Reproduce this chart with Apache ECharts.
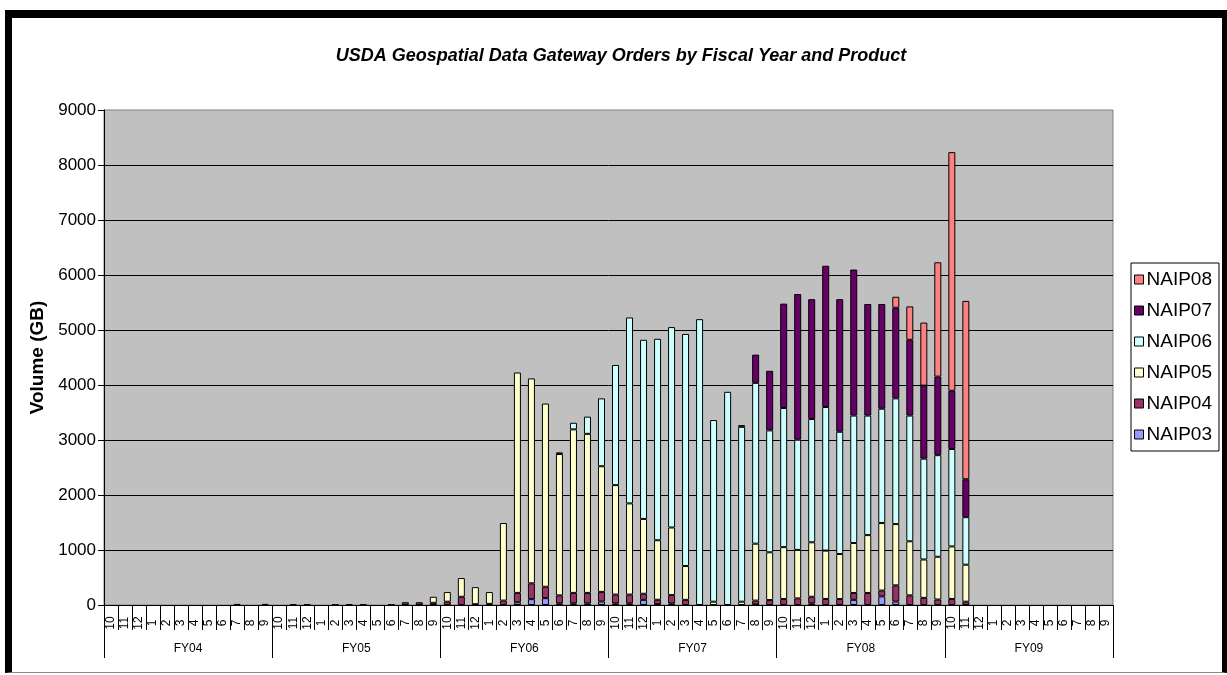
<!DOCTYPE html>
<html>
<head>
<meta charset="utf-8">
<script src="https://cdn.jsdelivr.net/npm/echarts@6/dist/echarts.min.js"></script>
<style>
  html, body { margin: 0; padding: 0; background: #fff; }
  #chart { position: absolute; left: 0; top: 0; width: 1227px; height: 675px; }
  #frame {
    position: absolute; left: 5px; top: 10px; width: 1222px; height: 663px;
    box-sizing: border-box; pointer-events: none;
    border-top: 8px solid #000; border-left: 7px solid #000;
    border-right: 5px solid #000; border-bottom: 1px solid #888;
  }
</style>
</head>
<body>
<div id="chart"></div>
<div id="frame"></div>
<script>
// month labels, fiscal years Oct..Sep
const months = [
  '10', '11', '12', '1', '2', '3', '4', '5', '6', '7', '8', '9',
  '10', '11', '12', '1', '2', '3', '4', '5', '6', '7', '8', '9',
  '10', '11', '12', '1', '2', '3', '4', '5', '6', '7', '8', '9',
  '10', '11', '12', '1', '2', '3', '4', '5', '6', '7', '8', '9',
  '10', '11', '12', '1', '2', '3', '4', '5', '6', '7', '8', '9',
  '10', '11', '12', '1', '2', '3', '4', '5', '6', '7', '8', '9',
]
const fiscalYears = ['FY04', 'FY05', 'FY06', 'FY07', 'FY08', 'FY09']

// volumes in GB, one row per fiscal year
const naip03 = [
  0, 0, 0, 0, 0, 0, 0, 0, 0, 0, 0, 0,
  0, 0, 0, 0, 0, 0, 0, 0, 0, 0, 0, 0,
  0, 0, 0, 0, 0, 50, 106, 125, 30, 30, 30, 63,
  30, 30, 94, 15, 30, 0, 0, 0, 0, 0, 10, 0,
  0, 0, 30, 0, 0, 94, 0, 157, 63, 0, 0, 0,
  0, 0, 0, 0, 0, 0, 0, 0, 0, 0, 0, 0,
]
const naip04 = [
  0, 0, 0, 0, 0, 0, 0, 0, 0, 20, 0, 20,
  0, 15, 15, 0, 10, 15, 10, 0, 10, 50, 50, 40,
  60, 150, 15, 20, 80, 170, 288, 207, 145, 190, 190, 175,
  160, 160, 110, 80, 150, 94, 0, 0, 0, 0, 70, 90,
  110, 120, 120, 110, 110, 125, 219, 106, 294, 175, 130, 100,
  110, 60, 0, 0, 0, 0, 0, 0, 0, 0, 0, 0,
]
const naip05 = [
  0, 0, 0, 0, 0, 0, 0, 0, 0, 0, 0, 0,
  0, 0, 0, 0, 0, 0, 0, 0, 0, 0, 0, 110,
  175, 340, 310, 215, 1410, 4007, 3726, 3331, 2570, 2973, 2892, 2285,
  1989, 1657, 1361, 1082, 1229, 614, 0, 60, 0, 60, 1035, 868,
  942, 882, 990, 879, 817, 908, 1052, 1227, 1114, 983, 697, 777,
  955, 673, 0, 0, 0, 0, 0, 0, 0, 0, 0, 0,
]
const naip06 = [
  0, 0, 0, 0, 0, 0, 0, 0, 0, 0, 0, 0,
  0, 0, 0, 0, 0, 0, 0, 0, 0, 0, 0, 0,
  0, 0, 0, 0, 0, 0, 0, 0, 30, 120, 313, 1234,
  2185, 3381, 3257, 3663, 3644, 4220, 5197, 3303, 3876, 3180, 2924, 2217,
  2530, 2004, 2241, 2611, 2223, 2317, 2173, 2079, 2286, 2286, 1834, 1847,
  1772, 864, 0, 0, 0, 0, 0, 0, 0, 0, 0, 0,
]
const naip07 = [
  0, 0, 0, 0, 0, 0, 0, 0, 0, 0, 0, 0,
  0, 0, 0, 0, 0, 0, 0, 0, 0, 0, 0, 0,
  0, 0, 0, 0, 0, 0, 0, 0, 0, 0, 0, 0,
  0, 0, 0, 0, 0, 0, 0, 0, 0, 30, 513, 1083,
  1897, 2648, 2179, 2568, 2410, 2655, 2029, 1904, 1647, 1378, 1328, 1428,
  1058, 689, 0, 0, 0, 0, 0, 0, 0, 0, 0, 0,
]
const naip08 = [
  0, 0, 0, 0, 0, 0, 0, 0, 0, 0, 0, 0,
  0, 0, 0, 0, 0, 0, 0, 0, 0, 0, 0, 0,
  0, 0, 0, 0, 0, 0, 0, 0, 0, 0, 0, 0,
  0, 0, 0, 0, 0, 0, 0, 0, 0, 0, 0, 0,
  0, 0, 0, 0, 0, 0, 0, 0, 200, 607, 1146, 2079,
  4339, 3243, 0, 0, 0, 0, 0, 0, 0, 0, 0, 0,
]

const products = [
  { name: 'NAIP03', color: '#9999FF', values: naip03 },
  { name: 'NAIP04', color: '#993366', values: naip04 },
  { name: 'NAIP05', color: '#FFFFCC', values: naip05 },
  { name: 'NAIP06', color: '#CCFFFF', values: naip06 },
  { name: 'NAIP07', color: '#660066', values: naip07 },
  { name: 'NAIP08', color: '#FF8080', values: naip08 },
]

const font = 'Arial, "Liberation Sans", sans-serif'

const chart = echarts.init(document.getElementById('chart'), null, { renderer: 'canvas' })

const option = {
  animation: false,
  backgroundColor: '#fff',
  textStyle: { fontFamily: font, color: '#000' },
  title: {
    text: 'USDA Geospatial Data Gateway Orders by Fiscal Year and Product',
    left: 616,
    top: 42,
    textAlign: 'center',
    textStyle: {
      fontFamily: font, fontSize: 18, fontWeight: 'bold', fontStyle: 'italic', color: '#000',
    },
  },
  legend: {
    orient: 'vertical',
    left: 1131,
    top: 263,
    padding: [7, 7, 7, 3],
    itemGap: 12,
    itemWidth: 9,
    itemHeight: 9,
    icon: 'rect',
    borderColor: '#000',
    borderWidth: 1,
    backgroundColor: '#fff',
    itemStyle: { borderColor: '#000', borderWidth: 1 },
    textStyle: { fontFamily: font, fontSize: 19, color: '#000', padding: [0, 0, 0, -2] },
    data: ['NAIP08', 'NAIP07', 'NAIP06', 'NAIP05', 'NAIP04', 'NAIP03'],
  },
  grid: {
    left: 104,
    top: 110,
    width: 1009,
    height: 495,
    show: true,
    backgroundColor: '#C0C0C0',
    borderColor: '#808080',
    borderWidth: 1,
  },
  xAxis: [
    {
      type: 'category',
      data: months,
      axisLine: { lineStyle: { color: '#000', width: 1 } },
      axisTick: { show: true, interval: 0, length: 25, lineStyle: { color: '#000' } },
      axisLabel: {
        interval: 0,
        rotate: 90,
        align: 'center',
        verticalAlign: 'middle',
        margin: 18,
        fontSize: 12,
        fontFamily: font,
        color: '#000',
      },
    },
    {
      type: 'category',
      data: fiscalYears,
      position: 'bottom',
      axisLine: { show: false },
      axisTick: { show: true, interval: 0, length: 53, lineStyle: { color: '#000' } },
      axisLabel: { margin: 38, fontSize: 12, fontFamily: font, color: '#000' },
      splitLine: { show: false },
    },
  ],
  yAxis: {
    type: 'value',
    min: 0,
    max: 9000,
    interval: 1000,
    name: 'Volume (GB)',
    nameLocation: 'middle',
    nameGap: 56,
    nameTextStyle: { fontFamily: font, fontSize: 19, fontWeight: 'bold', color: '#000' },
    axisLine: { show: true, lineStyle: { color: '#000' } },
    axisTick: { show: true, length: 6, lineStyle: { color: '#000' } },
    axisLabel: {
      fontSize: 17, fontFamily: font, color: '#000', margin: 8,
      formatter: (v) => String(v),
    },
    splitLine: { show: true, showMaxLine: false, lineStyle: { color: '#000', width: 1 } },
  },
  series: products.map((p) => ({
    name: p.name,
    type: 'bar',
    stack: 'total',
    xAxisIndex: 0,
    barWidth: 7,
    itemStyle: { color: p.color, borderColor: '#000', borderWidth: 1 },
    emphasis: { disabled: true },
    data: p.values.map((v) => (v ? v : null)),
  })),
}

chart.setOption(option)
</script>
</body>
</html>
